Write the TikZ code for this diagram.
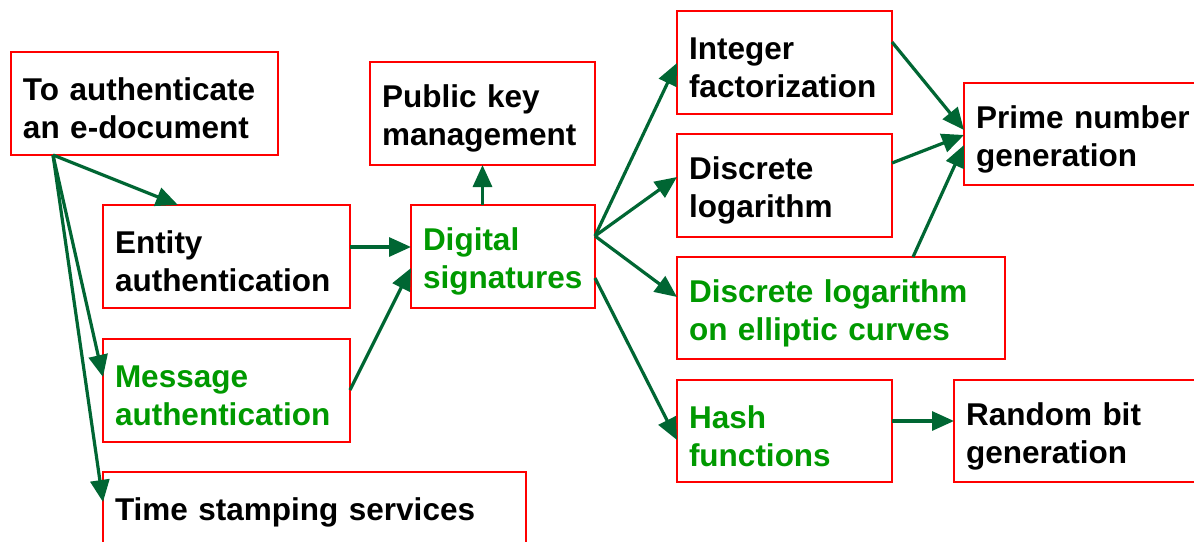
\documentclass[tikz,border=0pt]{standalone}
\usepackage{fontspec}
\setmainfont{Liberation Sans}
\usetikzlibrary{arrows.meta}
\definecolor{boxred}{HTML}{FF0000}
\definecolor{arrgreen}{HTML}{006633}
\definecolor{txtgreen}{HTML}{009900}
\tikzset{
  bx/.style={draw=boxred, line width=1.6pt, fill=white, anchor=north west, align=left,
    inner xsep=12pt, inner ysep=0pt, outer sep=0pt,
    font=\bfseries\fontsize{31.5}{38}\selectfont},
  lowered/.style={execute at begin node={\rule{0pt}{33pt}}},
  arr/.style={draw=arrgreen, line width=3.2pt, -{Triangle[length=22pt,width=19pt]}}
}
\begin{document}
\begin{tikzpicture}[x=1pt,y=-1pt]
\useasboundingbox (0,0) rectangle (1194,541);
\node[bx, lowered, minimum width=267pt, minimum height=103pt, text width=243pt] (A) at (11,52) {To authenticate\\an e-document};
\node[bx, lowered, minimum width=247pt, minimum height=103pt, text width=223pt] (Entity) at (103,205) {Entity\\authentication};
\node[bx, lowered, minimum width=247pt, minimum height=103pt, text width=223pt, text=txtgreen] (Message) at (103,339) {Message\\authentication};
\node[bx, minimum width=423pt, minimum height=80pt, text width=399pt] (Time) at (103,472) {Time stamping services};
\node[bx, lowered, minimum width=225pt, minimum height=103pt, text width=201pt] (Public) at (370,62) {Public key\\management};
\node[bx, lowered, minimum width=184pt, minimum height=103pt, text width=160pt, text=txtgreen] (Digital) at (411,205) {Digital\\signatures};
\node[bx, lowered, minimum width=215pt, minimum height=103pt, text width=191pt] (Integer) at (677,11) {Integer\\factorization};
\node[bx, lowered, minimum width=215pt, minimum height=103pt, text width=191pt] (Dlog) at (677,134) {Discrete\\logarithm};
\node[bx, lowered, minimum width=328pt, minimum height=102pt, text width=304pt, text=txtgreen] (DLEC) at (677,257) {Discrete logarithm\\on elliptic curves};
\node[bx, lowered, minimum width=215pt, minimum height=102pt, text width=191pt, text=txtgreen] (Hash) at (677,380) {Hash\\functions};
\node[bx, lowered, minimum width=260pt, minimum height=102pt, text width=236pt] (Prime) at (964,83) {Prime number\\generation};
\node[bx, lowered, minimum width=260pt, minimum height=102pt, text width=236pt] (Random) at (954,380) {Random bit\\generation};

\draw[arr] ([xshift=42pt]A.south west) -- ([xshift=75pt]Entity.north west);
\draw[arr] ([xshift=42pt]A.south west) -- ([yshift=-38pt]Message.north west);
\draw[arr] ([xshift=42pt]A.south west) -- ([yshift=-30pt]Time.north west);
\draw[arr] ([yshift=-42pt]Entity.north east) -- ([yshift=-42pt]Digital.north west);
\draw[arr] ([yshift=-51pt]Message.north east) -- ([yshift=-63pt]Digital.north west);
\draw[arr] (Digital.north -| Public.south) -- (Public.south);
\draw[arr] ([yshift=-31pt]Digital.north east) -- ([yshift=-52pt]Integer.north west);
\draw[arr] ([yshift=-31pt]Digital.north east) -- ([yshift=-43pt]Dlog.north west);
\draw[arr] ([yshift=-31pt]Digital.north east) -- ([yshift=-40pt]DLEC.north west);
\draw[arr] ([yshift=-73pt]Digital.north east) -- ([yshift=-60pt]Hash.north west);
\draw[arr] ([yshift=-31pt]Integer.north east) -- ([yshift=-47pt]Prime.north west);
\draw[arr] ([yshift=-29pt]Dlog.north east) -- ([yshift=-52pt]Prime.north west);
\draw[arr] ([xshift=236pt]DLEC.north west) -- ([yshift=-62pt]Prime.north west);
\draw[arr] ([yshift=-41pt]Hash.north east) -- ([yshift=-41pt]Random.north west);
\end{tikzpicture}
\end{document}
